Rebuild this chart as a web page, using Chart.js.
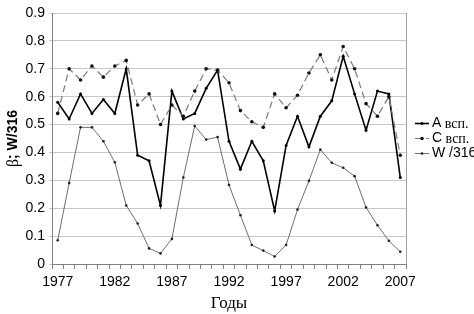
<!DOCTYPE html>
<html>
<head>
<meta charset="utf-8">
<script src="https://cdn.jsdelivr.net/npm/chart.js@4.4.0/dist/chart.umd.min.js"></script>
<style>
  html, body { margin: 0; padding: 0; background: #fff; }
  #wrap { width: 474px; height: 314px; }
</style>
</head>
<body>
<div id="wrap"><canvas id="beta-chart" width="474" height="314"></canvas></div>
<script>
const years = [1977, 1978, 1979, 1980, 1981, 1982, 1983, 1984, 1985, 1986,
               1987, 1988, 1989, 1990, 1991, 1992, 1993, 1994, 1995, 1996,
               1997, 1998, 1999, 2000, 2001, 2002, 2003, 2004, 2005, 2006, 2007];

const aVsp = [0.58, 0.52, 0.61, 0.54, 0.59, 0.54, 0.70, 0.39, 0.37, 0.21,
              0.62, 0.52, 0.54, 0.63, 0.695, 0.44, 0.34, 0.44, 0.37, 0.19,
              0.425, 0.53, 0.42, 0.53, 0.585, 0.745, 0.61, 0.48, 0.62, 0.61, 0.31];

const cVsp = [0.54, 0.70, 0.66, 0.71, 0.67, 0.71, 0.73, 0.57, 0.61, 0.50,
              0.57, 0.53, 0.62, 0.70, 0.695, 0.65, 0.55, 0.51, 0.49, 0.61,
              0.56, 0.605, 0.685, 0.75, 0.66, 0.78, 0.70, 0.575, 0.53, 0.60, 0.39];

const w316 = [0.085, 0.29, 0.49, 0.49, 0.44, 0.365, 0.21, 0.145, 0.056, 0.038,
              0.09, 0.31, 0.495, 0.446, 0.455, 0.283, 0.175, 0.068, 0.048, 0.027,
              0.068, 0.195, 0.298, 0.41, 0.363, 0.345, 0.315, 0.203, 0.139, 0.083, 0.044];

const yTicks = [0, 0.1, 0.2, 0.3, 0.4, 0.5, 0.6, 0.7, 0.8, 0.9];

const sans = "'Liberation Sans', Arial, sans-serif";
const serif = "'Liberation Serif', 'Times New Roman', serif";

// y title and legend are drawn by hand, because they mix fonts
const extras = {
    id: "extras",
    afterDraw(chart) {
        const ctx = chart.ctx;
        const area = chart.chartArea;
        ctx.save();

        // right border of the plot
        ctx.strokeStyle = "#a0a0a0";
        ctx.lineWidth = 1;
        ctx.beginPath();
        ctx.moveTo(Math.round(area.right) + 0.5, area.top);
        ctx.lineTo(Math.round(area.right) + 0.5, area.bottom);
        ctx.stroke();

        // y axis title
        ctx.translate(13, (area.top + area.bottom) / 2);
        ctx.rotate(-Math.PI / 2);
        ctx.fillStyle = "#000";
        ctx.textBaseline = "middle";
        const part1 = "β";
        const part2 = "; W/316";
        ctx.font = "16px " + serif;
        const w1 = ctx.measureText(part1).width;
        ctx.font = "bold 14px " + sans;
        const w2 = ctx.measureText(part2).width;
        let x0 = -(w1 + w2) / 2;
        ctx.font = "16px " + serif;
        ctx.fillText(part1, x0, 1);
        ctx.font = "bold 14px " + sans;
        ctx.fillText(part2, x0 + w1, 0);
        ctx.restore();

        // legend
        const items = [
            { ds: chart.data.datasets[2], a: "A", b: " всп." },
            { ds: chart.data.datasets[1], a: "C", b: " всп." },
            { ds: chart.data.datasets[0], a: "W /316", b: "" }
        ];
        const lx = area.right + 9;
        let ly = 123;
        ctx.save();
        items.forEach(it => {
            ctx.strokeStyle = it.ds.borderColor;
            ctx.lineWidth = it.ds.borderWidth;
            ctx.setLineDash(it.ds.borderDash || []);
            ctx.beginPath();
            ctx.moveTo(lx, ly + 0.5);
            ctx.lineTo(lx + 14, ly + 0.5);
            ctx.stroke();
            ctx.setLineDash([]);
            ctx.fillStyle = it.ds.pointBackgroundColor;
            ctx.beginPath();
            ctx.arc(lx + 7, ly + 0.5, it.ds.pointRadius, 0, Math.PI * 2);
            ctx.fill();

            ctx.fillStyle = "#000";
            ctx.textBaseline = "middle";
            ctx.font = "14px " + sans;
            ctx.fillText(it.a, lx + 17, ly);
            const wa = ctx.measureText(it.a).width;
            if (it.b) {
                ctx.font = "14px " + serif;
                ctx.fillText(it.b, lx + 17 + wa, ly + 1);
            }
            ly += 15;
        });
        ctx.restore();
    }
};

new Chart(document.getElementById("beta-chart"), {
    type: "line",
    data: {
        labels: years,
        datasets: [
            {
                label: "W /316",
                data: w316,
                borderColor: "#6e6e6e",
                borderWidth: 1,
                pointRadius: 1.3,
                pointBackgroundColor: "#222",
                pointBorderWidth: 0,
                tension: 0
            },
            {
                label: "C всп.",
                data: cVsp,
                borderColor: "#7a7a7a",
                borderWidth: 1.2,
                borderDash: [7, 4],
                pointRadius: 1.8,
                pointBackgroundColor: "#111",
                pointBorderWidth: 0,
                tension: 0
            },
            {
                label: "A всп.",
                data: aVsp,
                borderColor: "#000",
                borderWidth: 1.6,
                pointRadius: 1.5,
                pointBackgroundColor: "#000",
                pointBorderWidth: 0,
                tension: 0
            }
        ]
    },
    options: {
        responsive: false,
        animation: false,
        layout: { padding: { top: 13, right: 68, left: 0, bottom: 0 } },
        plugins: {
            legend: { display: false },
            tooltip: { enabled: false }
        },
        scales: {
            x: {
                type: "category",
                offset: true,
                grid: {
                    offset: true,
                    drawOnChartArea: false,
                    drawTicks: true,
                    tickLength: 5,
                    color: "#808080"
                },
                border: { color: "#808080", width: 1 },
                ticks: {
                    autoSkip: false,
                    maxRotation: 0,
                    color: "#000",
                    font: { family: sans, size: 14 },
                    padding: 5,
                    callback: function (val, i) {
                        const y = this.getLabelForValue(val);
                        return (Number(y) - years[0]) % 5 === 0 ? y : "";
                    }
                },
                title: {
                    display: true,
                    text: "Годы",
                    color: "#000",
                    font: { family: serif, size: 17 },
                    padding: { top: 0, bottom: 0 }
                },
                afterFit: s => { s.height = 50; }
            },
            y: {
                min: 0,
                max: 0.9,
                afterBuildTicks: s => { s.ticks = yTicks.map(v => ({ value: v })); },
                grid: {
                    color: "#c8c8c8",
                    tickLength: 3,
                    drawTicks: true
                },
                border: { color: "#808080", width: 1 },
                ticks: {
                    color: "#000",
                    font: { family: sans, size: 14 },
                    padding: 4,
                    callback: v => v === 0 ? "0" : v.toFixed(1)
                },
                afterFit: s => { s.width = 52; }
            }
        }
    },
    plugins: [extras]
});
</script>
</body>
</html>
